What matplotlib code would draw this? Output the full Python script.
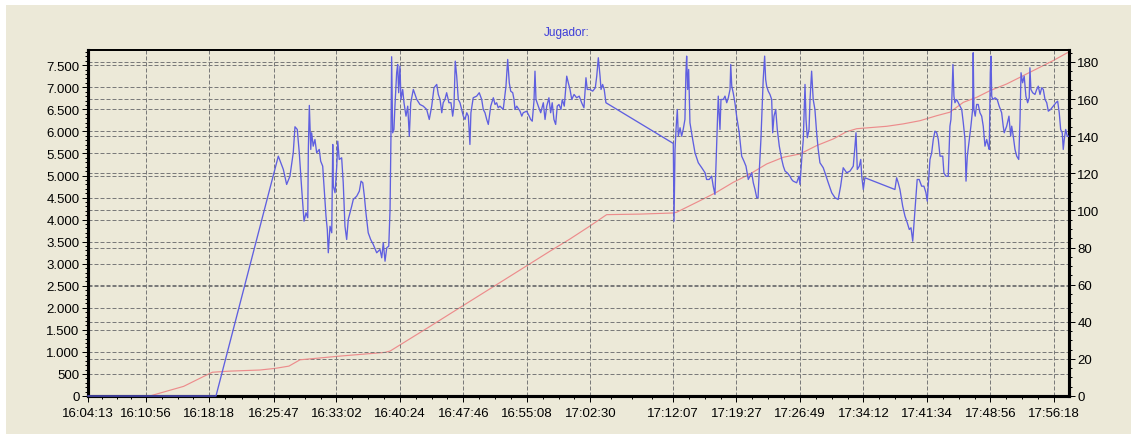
import matplotlib
matplotlib.use("Agg")
import matplotlib.pyplot as plt
from matplotlib.patches import Rectangle
from matplotlib.ticker import MultipleLocator, FixedLocator, FuncFormatter

plt.rcParams['font.family'] = ['Liberation Sans', 'DejaVu Sans']

# ---------------- data ----------------
title_text = "Jugador:"
# x tick labels (clock time) and their offsets in seconds from 16:04:13
tick_labels = ["16:04:13", "16:10:56", "16:18:18", "16:25:47", "16:33:02", "16:40:24",
               "16:47:46", "16:55:08", "17:02:30", "17:12:07", "17:19:27", "17:26:49",
               "17:34:12", "17:41:34", "17:48:56", "17:56:18"]
tick_secs = [0, 403, 845, 1294, 1729, 2171, 2613, 3055, 3497, 4074, 4514, 4956,
             5399, 5841, 6283, 6725]
x_end = 6830

# blue series (left axis), time in seconds since 16:04:13
jugador_t = [0, 891, 1325, 1360, 1383, 1406, 1429, 1441, 1457, 1471, 1488, 1504, 1518, 1530, 1534,
             1541, 1551, 1557, 1568, 1580, 1592, 1610, 1620, 1634, 1643, 1657, 1666, 1673, 1685,
             1697, 1704, 1708, 1720, 1732, 1739, 1749, 1766, 1777, 1789, 1801, 1812, 1836, 1847,
             1871, 1889, 1901, 1913, 1924, 1935, 1951, 1968, 1986, 2010, 2033, 2045, 2056, 2068,
             2080, 2094, 2103, 2109, 2114, 2121, 2130, 2137, 2149, 2156, 2163, 2172, 2179, 2191,
             2200, 2214, 2226, 2237, 2247, 2265, 2289, 2311, 2334, 2358, 2376, 2393, 2409, 2428,
             2439, 2451, 2463, 2473, 2485, 2497, 2513, 2527, 2539, 2548, 2557, 2567, 2578, 2590,
             2613, 2625, 2637, 2648, 2659, 2666, 2682, 2706, 2724, 2741, 2752, 2764, 2776, 2787,
             2804, 2822, 2834, 2845, 2856, 2868, 2891, 2910, 2922, 2933, 2943, 2957, 2966, 2973,
             2985, 3008, 3020, 3030, 3054, 3072, 3082, 3093, 3105, 3112, 3119, 3135, 3152, 3170,
             3182, 3194, 3209, 3221, 3232, 3244, 3256, 3267, 3279, 3293, 3302, 3316, 3333, 3344,
             3356, 3368, 3384, 3402, 3420, 3437, 3453, 3467, 3476, 3495, 3514, 3532, 3542, 3553,
             3565, 3572, 3583, 3594, 3606, 4075, 4080, 4087, 4094, 4103, 4110, 4122, 4133, 4144,
             4156, 4163, 4168, 4175, 4182, 4191, 4210, 4226, 4249, 4273, 4296, 4307, 4325, 4342,
             4353, 4365, 4372, 4381, 4388, 4400, 4407, 4423, 4435, 4447, 4458, 4470, 4475, 4482,
             4492, 4504, 4516, 4534, 4551, 4567, 4581, 4597, 4609, 4621, 4632, 4644, 4656, 4665,
             4673, 4685, 4694, 4701, 4711, 4718, 4725, 4736, 4748, 4760, 4767, 4776, 4788, 4799,
             4813, 4830, 4841, 4853, 4868, 4887, 4899, 4910, 4934, 4950, 4957, 4969, 4980, 4987,
             4992, 4999, 5008, 5020, 5027, 5038, 5049, 5061, 5073, 5084, 5096, 5119, 5131, 5154,
             5178, 5201, 5223, 5240, 5258, 5282, 5305, 5328, 5340, 5347, 5356, 5370, 5380, 5387,
             5398, 5409, 5618, 5630, 5641, 5653, 5672, 5688, 5704, 5718, 5730, 5742, 5753, 5765,
             5773, 5787, 5804, 5820, 5834, 5843, 5853, 5862, 5874, 5885, 5897, 5909, 5920, 5932,
             5951, 5959, 5973, 5989, 6001, 6008, 6015, 6022, 6029, 6036, 6048, 6059, 6071, 6083,
             6094, 6106, 6113, 6122, 6136, 6147, 6159, 6163, 6168, 6177, 6187, 6198, 6210, 6222,
             6233, 6245, 6257, 6268, 6275, 6282, 6287, 6292, 6299, 6315, 6330, 6344, 6361, 6372,
             6379, 6396, 6412, 6424, 6431, 6442, 6454, 6466, 6480, 6489, 6496, 6507, 6518, 6530,
             6542, 6553, 6558, 6565, 6577, 6593, 6605, 6616, 6628, 6640, 6651, 6663, 6675, 6686,
             6702, 6720, 6739, 6751, 6762, 6772, 6783, 6790, 6797, 6807, 6818, 6825]
jugador_v = [0, 0, 5439, 5137, 4797, 4985, 5516, 6105, 6044, 5516, 4683, 3964, 4155, 4042, 5591,
             6589, 5591, 5969, 5665, 5817, 5516, 5591, 5325, 5212, 4758, 4078, 3776, 3248, 3851,
             3701, 5704, 4758, 4609, 5212, 5779, 5364, 5402, 4835, 3851, 3549, 4003, 4305, 4457,
             4532, 4645, 4872, 4835, 4532, 4155, 3701, 3549, 3436, 3248, 3323, 3134, 3475, 3057,
             3361, 3397, 4230, 5818, 7693, 5969, 6044, 6573, 7330, 7518, 6877, 7480, 6724, 6951,
             6650, 6346, 6573, 5892, 6650, 6951, 6724, 6611, 6573, 6498, 6271, 6573, 6990, 7065,
             6838, 6724, 6423, 6650, 6724, 6877, 6650, 6650, 6346, 6573, 7593, 7253, 6724, 6650,
             6346, 6271, 6423, 6346, 5704, 6423, 6763, 6800, 6877, 6724, 6498, 6423, 6271, 6158,
             6573, 6763, 6611, 6650, 6536, 6573, 6498, 7026, 7632, 7103, 6913, 6877, 6724, 6498,
             6573, 6459, 6346, 6423, 6459, 6346, 6271, 6232, 6686, 7366, 6724, 6573, 6423, 6650,
             6271, 6573, 6763, 6423, 6650, 6271, 6158, 6573, 6611, 6498, 6724, 6573, 7253, 7103,
             6951, 6724, 6838, 6763, 6800, 6650, 6536, 7217, 6951, 6951, 6913, 6990, 7253, 7670,
             7253, 6951, 7065, 6951, 6650, 5727, 3964, 5591, 6044, 6498, 5892, 6083, 5892, 6044,
             6271, 7330, 7707, 6951, 7405, 6196, 5817, 5516, 5289, 5176, 5062, 4910, 4910, 4985,
             4758, 4570, 5212, 6119, 6800, 6044, 6724, 6724, 6800, 6650, 6763, 6951, 7518, 7026,
             6877, 6650, 6346, 5969, 5439, 5325, 5212, 4910, 4985, 5062, 4835, 4683, 4495, 4495,
             5062, 5817, 6611, 7178, 7707, 7178, 7026, 6913, 6838, 6724, 5969, 6346, 6498, 6044,
             5665, 5364, 5212, 5099, 5062, 4985, 4910, 4872, 4835, 4985, 4797, 5364, 5817, 6573,
             7065, 6271, 5856, 6044, 6724, 7366, 6724, 6498, 5969, 5591, 5289, 5176, 5062, 4835,
             4609, 4495, 4457, 4758, 5176, 5062, 5099, 5212, 5665, 5969, 5137, 5212, 5364, 4985,
             4683, 4949, 4683, 4949, 4835, 4683, 4305, 4078, 3928, 3776, 3815, 3511, 4003, 4532,
             4910, 4910, 4758, 4758, 4609, 4418, 4910, 5364, 5516, 5817, 6006, 5969, 5817, 5439,
             5439, 5062, 4985, 4985, 6119, 6271, 6800, 7518, 6800, 6650, 6724, 6650, 6573, 6498,
             6196, 5817, 4872, 5439, 5817, 6119, 6498, 7784, 6498, 6346, 6611, 6611, 6423, 6346,
             6119, 5665, 5817, 5665, 5591, 7330, 7707, 6800, 6724, 6763, 6724, 6573, 6423, 6119,
             5969, 6119, 6346, 5892, 6119, 5892, 5591, 5439, 5364, 6271, 7330, 7103, 7253, 6800,
             6650, 6763, 7443, 6951, 6877, 6838, 6951, 7026, 6838, 6990, 6951, 6724, 6650, 6459,
             6498, 6573, 6650, 6686, 6423, 6044, 5969, 5591, 5817, 6044, 5892, 5892]

# red series (right axis)
acum_t = [0, 430, 666, 799, 866, 986, 1197, 1305, 1399, 1476, 1754, 2068, 2103, 2381, 2659,
          2938, 3216, 3356, 3495, 3611, 3844, 4075, 4098, 4260, 4377, 4492, 4609, 4725, 4841,
          4957, 5073, 5189, 5282, 5352, 5561, 5676, 5792, 5909, 6001, 6094, 6187, 6280, 6396,
          6489, 6581, 6720, 6825]
acum_v = [0, 0, 5.2, 10.3, 12.8, 13.4, 14.0, 14.9, 16.1, 19.5, 21.5, 23.5, 24.2, 37.5, 51.0,
          64.5, 78.0, 84.6, 91.6, 97.7, 98.0, 98.6, 99.0, 105.2, 109.8, 115.1, 119.6, 125.0,
          128.6, 130.4, 134.9, 138.5, 142.4, 144.0, 145.3, 146.6, 148.3, 151.0, 152.9, 158.2,
          160.9, 164.5, 168.1, 171.7, 175.3, 180.7, 185.2]

left_max = 7846
right_max = 186.4

# ---------------- style ----------------
BG = '#ECE9D8'
GRID = '#7a7a7a'
BLUE = '#5f5fe0'
RED = '#ec8c8c'
W, H = 1131, 435
PX = 0.72  # one pixel in points at dpi 100

fig = plt.figure(figsize=(W / 100, H / 100), dpi=100)
fig.patch.set_facecolor(BG)
fig.patches.append(Rectangle((0, 1 - 6 / H), 1, 6 / H, transform=fig.transFigure,
                             facecolor='white', edgecolor='none', zorder=-5))
fig.patches.append(Rectangle((0, 0), 6 / W, 1, transform=fig.transFigure,
                             facecolor='white', edgecolor='none', zorder=-5))

ax = fig.add_axes([88 / W, 1 - 397 / H, (1069 - 88) / W, (397 - 51) / H])
ax2 = ax.twinx()
# right axis drawn behind, left axis (blue) in front
ax.set_zorder(ax2.get_zorder() + 1)
ax.patch.set_visible(False)
ax2.patch.set_visible(True)
ax2.patch.set_facecolor(BG)

dash = (0, (4, 2))
# red series on right axis
ax2.plot(acum_t, acum_v, color=RED, lw=0.85, zorder=3)
ax2.set_ylim(0, right_max)
ax2.yaxis.set_major_locator(MultipleLocator(20))
ax2.yaxis.set_minor_locator(MultipleLocator(5))
ax2.grid(axis='y', which='major', color=GRID, linestyle=dash, linewidth=PX)
ax2.set_axisbelow(True)

# blue series on left axis
ax.plot(jugador_t, jugador_v, color=BLUE, lw=0.95, zorder=3, clip_on=False)
ax.set_xlim(0, x_end)
ax.set_ylim(0, left_max)
ax.yaxis.set_major_locator(MultipleLocator(500))
ax.yaxis.set_minor_locator(MultipleLocator(100))
ax.yaxis.set_major_formatter(FuncFormatter(lambda v, p: f"{int(round(v)):,}".replace(',', '.')))
ax.set_xticks(tick_secs)
ax.set_xticklabels(tick_labels)
minor_x = []
for a, b in zip(tick_secs[:-1], tick_secs[1:]):
    minor_x += [a + (b - a) * k / 4 for k in (1, 2, 3)]
ax.xaxis.set_minor_locator(FixedLocator(minor_x))
ax.grid(axis='both', which='major', color=GRID, linestyle=dash, linewidth=PX)
ax.set_axisbelow(True)

fs = 9.5
for a in (ax, ax2):
    for s in ('left', 'right', 'bottom'):
        a.spines[s].set_linewidth(2.2)
        a.spines[s].set_color('black')
        a.spines[s].set_zorder(2)
    a.spines['top'].set_linewidth(1.3)
    a.spines['top'].set_color('black')

ax.tick_params(axis='y', which='major', direction='out', length=4, width=PX, pad=2,
               labelsize=fs, colors='black')
ax.tick_params(axis='y', which='minor', direction='out', length=2, width=PX)
ax.tick_params(axis='x', which='major', direction='out', length=4, width=PX, pad=4,
               labelsize=fs, colors='black')
ax.tick_params(axis='x', which='minor', direction='out', length=2.5, width=PX)
ax2.tick_params(axis='y', which='major', direction='out', length=4.5, width=PX, pad=1.5,
                labelsize=fs, colors='black')
ax2.tick_params(axis='y', which='minor', direction='out', length=2.5, width=PX)

fig.text(567 / W, 1 - 33 / H, title_text, color='#3c3cd8', fontsize=8.5,
         ha='center', va='center')

fig.savefig('out.png', dpi=100, facecolor=BG)
